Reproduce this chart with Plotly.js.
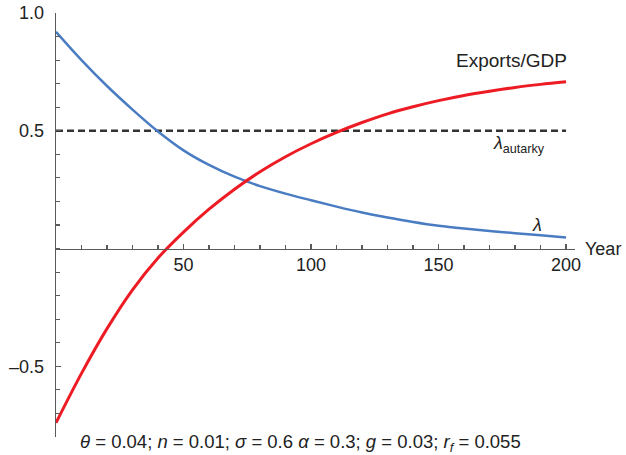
<!DOCTYPE html>
<html>
<head>
<meta charset="utf-8">
<script src="https://cdn.plot.ly/plotly-3.0.1.min.js"></script>
<style>html,body{margin:0;padding:0;background:#fff;}#chart{width:626px;height:455px;}</style>
</head>
<body>
<div id="chart"></div>
<script>
// Years
var years = [0,10,20,30,40,50,60,70,80,90,100,110,120,130,140,150,160,170,180,190,200];
// lambda (blue)
var lambda = [0.92,0.80,0.69,0.59,0.497,0.417,0.355,0.305,0.265,0.233,0.205,0.178,0.153,0.132,0.113,0.097,0.085,0.075,0.065,0.056,0.047];
// Exports/GDP (red)
var exportsGDP = [-0.74,-0.53,-0.34,-0.175,-0.04,0.07,0.167,0.252,0.326,0.39,0.445,0.493,0.535,0.572,0.602,0.628,0.650,0.668,0.684,0.697,0.708];
// lambda autarky (dashed)
var autarkyYears = [0,200];
var autarkyValue = [0.5,0.5];
// tick labels
var xTickVals = [50,100,150,200];
var xTickText = ['50','100','150','200'];
var yTickVals = [-0.5,0.5,1.0];
var yTickText = ['\u20130.5','0.5','1.0'];

var font = 'Liberation Sans, Arial, Helvetica, sans-serif';
var axisColor = '#5a5a5a';
var textColor = '#222';

var traces = [
  {x: autarkyYears, y: autarkyValue, mode: 'lines', line: {color: '#333333', width: 2.5, dash: '7px,4px'}, hoverinfo: 'skip'},
  {x: years, y: lambda, mode: 'lines', line: {color: 'rgb(74,124,194)', width: 2.5, shape: 'spline'}, hoverinfo: 'skip'},
  {x: years, y: exportsGDP, mode: 'lines', line: {color: 'rgb(237,28,36)', width: 3, shape: 'spline'}, hoverinfo: 'skip'}
];

var layout = {
  width: 626, height: 455,
  margin: {l: 56, r: 51, t: 13, b: 18},
  paper_bgcolor: '#fff', plot_bgcolor: '#fff',
  showlegend: false,
  font: {family: font, size: 18, color: textColor},
  xaxis: {
    range: [0, 203.5], anchor: 'free', position: 0.8/1.8,
    showgrid: false, zeroline: false, showline: true, linecolor: axisColor, linewidth: 1.3,
    tickmode: 'array', tickvals: xTickVals, ticktext: xTickText,
    ticks: 'inside', ticklen: 5, tickcolor: axisColor, tickwidth: 1.2,
    minor: {dtick: 10, tick0: 0, ticks: 'inside', ticklen: 4, tickcolor: axisColor, tickwidth: 1.2, showgrid: false},
    tickfont: {family: font, size: 18, color: textColor}
  },
  yaxis: {
    range: [-0.8, 1.0],
    showgrid: false, zeroline: false, showline: true, linecolor: axisColor, linewidth: 1.3,
    tickmode: 'array', tickvals: yTickVals, ticktext: yTickText,
    ticks: 'inside', ticklen: 5, tickcolor: axisColor, tickwidth: 1.2,
    ticklabelstandoff: 7,
    minor: {dtick: 0.1, tick0: 0, ticks: 'inside', ticklen: 4, tickcolor: axisColor, tickwidth: 1.2, showgrid: false},
    tickfont: {family: font, size: 18, color: textColor}
  },
  annotations: [
    {xref: 'x', yref: 'y', x: 178.5, y: 0.80, text: 'Exports/GDP', showarrow: false, font: {family: font, size: 19, color: textColor}},
    {xref: 'x', yref: 'y', x: 181.6, y: 0.44, text: '<i>\u03bb</i><sub>autarky</sub>', showarrow: false, font: {family: font, size: 18, color: textColor}},
    {xref: 'x', yref: 'y', x: 188.7, y: 0.10, text: '<i>\u03bb</i>', showarrow: false, font: {family: font, size: 18, color: textColor}},
    {xref: 'paper', yref: 'y', x: 1, y: 0, xanchor: 'left', xshift: 8, text: 'Year', showarrow: false, font: {family: font, size: 18, color: textColor}},
    {xref: 'paper', yref: 'paper', x: 0.471, y: 0, yanchor: 'middle', yshift: -6, showarrow: false,
     text: '<i>\u03b8</i> = 0.04; <i>n</i> = 0.01; <i>\u03c3</i> = 0.6 <i>\u03b1</i> = 0.3; <i>g</i> = 0.03; <i>r<sub>f</sub></i> = 0.055',
     font: {family: font, size: 18.5, color: textColor}}
  ]
};

Plotly.newPlot('chart', traces, layout, {displayModeBar: false, staticPlot: true});
</script>
</body>
</html>
